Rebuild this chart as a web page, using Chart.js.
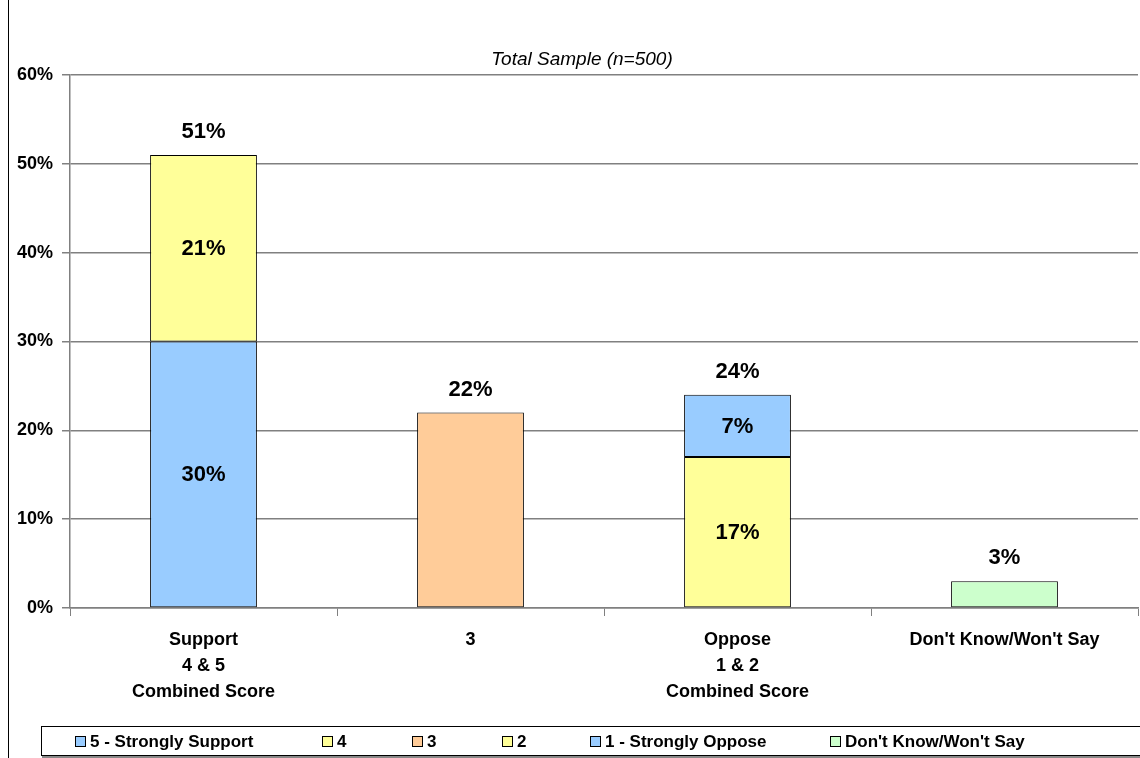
<!DOCTYPE html>
<html>
<head>
<meta charset="utf-8">
<script src="https://cdn.jsdelivr.net/npm/chart.js@4/dist/chart.umd.min.js"></script>
<style>
  body { margin: 0; background: #fff; }
  #wrap { width: 1140px; height: 758px; }
</style>
</head>
<body>
<div id="wrap"><canvas id="surveyChart"></canvas></div>
<script>
const categories = [['Support', '4 & 5', 'Combined Score'], '3', ['Oppose', '1 & 2', 'Combined Score'], "Don't Know/Won't Say"];
const seriesNames = ['5 - Strongly Support', '4', '3', '2', '1 - Strongly Oppose', "Don't Know/Won't Say"];
const stronglySupport = [30, 0, 0, 0];
const support = [21, 0, 0, 0];
const neutral = [0, 22, 0, 0];
const oppose = [0, 0, 17, 0];
const stronglyOppose = [0, 0, 7, 0];
const dontKnow = [0, 0, 0, 3];
const yTicks = [0, 10, 20, 30, 40, 50, 60];

const colors = ['#99ccff', '#ffff99', '#ffcc99', '#ffff99', '#99ccff', '#ccffcc'];
const values = [stronglySupport, support, neutral, oppose, stronglyOppose, dontKnow];
const FONT = '"Liberation Sans", Arial, sans-serif';

const ctx = document.getElementById('surveyChart').getContext('2d');

// value labels, title, frame and legend box
const decor = {
    id: 'decor',
    afterDatasetsDraw(chart) {
        const c = chart.ctx;
        c.save();
        c.fillStyle = '#000';
        c.textAlign = 'center';
        c.textBaseline = 'middle';
        c.font = 'bold 22px ' + FONT;
        categories.forEach((cat, i) => {
            let total = 0;
            let filled = 0;
            values.forEach(v => { total += v[i]; if (v[i] > 0) filled++; });
            values.forEach((v, d) => {
                if (v[i] > 0 && filled > 1) {
                    const bar = chart.getDatasetMeta(d).data[i];
                    c.fillText(v[i] + '%', bar.x, (bar.y + bar.base) / 2 + 1);
                }
            });
            const x = chart.scales.x.getPixelForValue(i);
            const y = chart.scales.y.getPixelForValue(total);
            c.fillText(total + '%', x, y - 23);
        });

        c.font = 'italic 19px ' + FONT;
        c.fillText('Total Sample (n=500)', 582, 60);

        // outer frame line
        c.strokeStyle = '#000';
        c.lineWidth = 1;
        c.beginPath();
        c.moveTo(8.5, 0);
        c.lineTo(8.5, 758);
        c.stroke();

        // legend box
        c.fillStyle = '#888';
        c.fillRect(42, 755, 1100, 3);
        c.strokeStyle = '#000';
        c.strokeRect(41.5, 726.5, 1110, 29);

        const legendX = [75, 322, 412, 502, 590, 830];
        c.font = 'bold 17px ' + FONT;
        c.textAlign = 'left';
        seriesNames.forEach((name, k) => {
            c.fillStyle = colors[k];
            c.fillRect(legendX[k], 736, 10, 10);
            c.strokeStyle = '#000';
            c.strokeRect(legendX[k] + 0.5, 736.5, 10, 10);
            c.fillStyle = '#000';
            c.fillText(name, legendX[k] + 15, 742);
        });
        c.restore();
    }
};

new Chart(ctx, {
    type: 'bar',
    data: {
        labels: categories,
        datasets: seriesNames.map((name, k) => ({
            label: name,
            data: values[k].map(v => v === 0 ? null : v),
            backgroundColor: colors[k],
            borderColor: '#000',
            borderWidth: 1,
            borderSkipped: false,
            categoryPercentage: 1,
            barPercentage: 0.4
        }))
    },
    options: {
        responsive: true,
        maintainAspectRatio: false,
        animation: false,
        layout: { padding: { top: 75, right: 2, left: 0, bottom: 0 } },
        plugins: {
            legend: { display: false },
            tooltip: { enabled: false }
        },
        scales: {
            x: {
                stacked: true,
                afterFit: scale => { scale.height = 150; },
                grid: {
                    offset: true,
                    drawOnChartArea: false,
                    color: '#808080',
                    tickLength: 8
                },
                border: { color: '#808080', width: 1.5 },
                ticks: {
                    color: '#000',
                    padding: 11,
                    maxRotation: 0,
                    font: { family: FONT, size: 18, weight: 'bold', lineHeight: 1.45 }
                }
            },
            y: {
                stacked: true,
                min: 0,
                max: 60,
                afterFit: scale => { scale.width = 70; },
                afterBuildTicks: scale => { scale.ticks = yTicks.map(v => ({ value: v })); },
                grid: { color: '#808080', lineWidth: 1.5, tickLength: 8 },
                border: { color: '#808080', width: 1.5 },
                ticks: {
                    color: '#000',
                    padding: 9,
                    callback: value => value + '%',
                    font: { family: FONT, size: 18, weight: 'bold' }
                }
            }
        }
    },
    plugins: [decor]
});
</script>
</body>
</html>
